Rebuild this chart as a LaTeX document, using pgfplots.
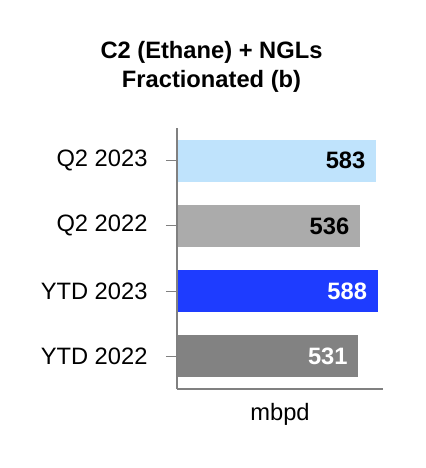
\documentclass[border=0pt]{standalone}
\usepackage{fontspec}
\setmainfont{Liberation Sans}
\usepackage{pgfplots}
\pgfplotsset{compat=1.18}
\definecolor{lightbar}{RGB}{191,227,252}
\definecolor{midgray}{RGB}{171,171,171}
\definecolor{bluebar}{RGB}{30,60,255}
\definecolor{darkbar}{RGB}{130,130,130}
\definecolor{axisgray}{RGB}{128,128,128}
\newcommand{\chartfont}{\fontsize{23.7bp}{29bp}\selectfont}

\begin{document}
\begin{tikzpicture}
\useasboundingbox (-177bp,-79bp) rectangle (249bp,389bp);
\begin{axis}[
  at={(0,0)}, anchor=south west,
  width=206bp, height=261bp, scale only axis,
  xmin=0, xmax=604, ymin=-0.5, ymax=3.5,
  xbar, bar width=42bp, bar shift=0pt,
  axis x line*=bottom, axis y line*=left,
  axis line style={draw=axisgray, line width=1.5bp, -},
  xtick=\empty,
  ytick={0,1,2,3},
  yticklabels={YTD 2022,YTD 2023,Q2 2022,Q2 2023},
  ytick align=outside, major tick length=11bp,
  y tick style={draw=axisgray, line width=1.2bp},
  ticklabel style={font=\chartfont},
  yticklabel style={xshift=-15bp},
  xlabel={mbpd}, xlabel style={font=\chartfont, yshift=-11bp},
  /pgf/number format/assume math mode=true,
  point meta=x,
  nodes near coords={\textbf{\pgfmathprintnumber{\pgfplotspointmeta}}},
  every node near coord/.append style={anchor=east, xshift=-7bp, font=\chartfont},
  clip=false, axis on top,
]
\addplot[fill=lightbar, draw=none, every node near coord/.append style={text=black}] coordinates {(583,3)};
\addplot[fill=midgray, draw=none, every node near coord/.append style={text=black}] coordinates {(536,2)};
\addplot[fill=bluebar, draw=none, every node near coord/.append style={text=white}] coordinates {(588,1)};
\addplot[fill=darkbar, draw=none, every node near coord/.append style={text=white}] coordinates {(531,0)};
\end{axis}
\node[align=center, font=\chartfont\bfseries] at (34.5bp,322bp) {C2 (Ethane) + NGLs\\Fractionated (b)};
\end{tikzpicture}
\end{document}
